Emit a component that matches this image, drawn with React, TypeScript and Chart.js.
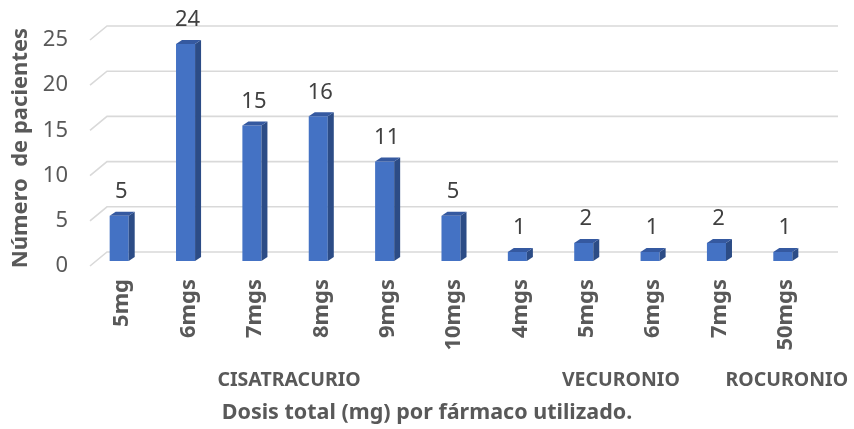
import { useEffect, useRef } from 'react';
import { Chart, registerables } from 'chart.js';

Chart.register(...registerables);

const categories = ['5mg', '6mgs', '7mgs', '8mgs', '9mgs', '10mgs', '4mgs', '5mgs', '6mgs', '7mgs', '50mgs'];
const patients = [5, 24, 15, 16, 11, 5, 1, 2, 1, 2, 1];
const groupNames = ['CISATRACURIO', 'VECURONIO', 'ROCURONIO'];
const groupSizes = [6, 4, 1];
const yMax = 25;
const yStep = 5;
const yTitle = 'Número  de pacientes';
const xTitle = 'Dosis total (mg) por fármaco utilizado.';

const FONT = "'Noto Sans', 'Open Sans', sans-serif";
const DX = 6;
const DY = 4;

const gridPlugin = {
  id: 'grid3d',
  beforeDatasetsDraw(chart: any) {
    const { ctx, chartArea, scales } = chart;
    const ys = scales.y;
    ctx.save();
    ctx.strokeStyle = '#d9d9d9';
    ctx.lineWidth = 1.6;
    ys.ticks.forEach((t: any) => {
      const py = ys.getPixelForValue(t.value);
      const fy = py + 5;
      const by = py - 9;
      ctx.beginPath();
      ctx.moveTo(chartArea.left + 4, fy);
      ctx.lineTo(chartArea.left + 21, by);
      ctx.lineTo(chartArea.right + 22, by);
      ctx.stroke();
    });
    ctx.restore();
  },
};

const barPlugin = {
  id: 'bar3d',
  afterDatasetsDraw(chart: any) {
    const { ctx, width } = chart;
    const meta = chart.getDatasetMeta(0);
    ctx.save();
    meta.data.forEach((bar: any, i: number) => {
      const p = bar.getProps(['x', 'y', 'base', 'width'], true);
      const { x, y, base } = p;
      const l = x - p.width / 2;
      const r = x + p.width / 2;
      ctx.fillStyle = '#2c4c86';
      ctx.beginPath();
      ctx.moveTo(r, y);
      ctx.lineTo(r + DX, y - DY);
      ctx.lineTo(r + DX, base - DY);
      ctx.lineTo(r, base);
      ctx.closePath();
      ctx.fill();
      ctx.fillStyle = '#3559a0';
      ctx.beginPath();
      ctx.moveTo(l, y);
      ctx.lineTo(l + DX, y - DY);
      ctx.lineTo(r + DX, y - DY);
      ctx.lineTo(r, y);
      ctx.closePath();
      ctx.fill();
      ctx.fillStyle = '#404040';
      ctx.font = `22px ${FONT}`;
      ctx.textAlign = 'center';
      ctx.textBaseline = 'middle';
      ctx.fillText(String(patients[i]), x + 2, y - 24);
    });
    // group labels
    const xs = chart.scales.x;
    ctx.fillStyle = '#595959';
    ctx.font = `bold 19.5px ${FONT}`;
    ctx.textAlign = 'center';
    ctx.textBaseline = 'middle';
    let start = 0;
    groupNames.forEach((name, gi) => {
      const end = start + groupSizes[gi] - 1;
      const cx = (xs.getPixelForValue(start) + xs.getPixelForValue(end)) / 2 + 4;
      ctx.fillText(name, cx, 380);
      start = end + 1;
    });
    // axis title
    ctx.font = `bold 21.5px ${FONT}`;
    ctx.fillText(xTitle, width / 2, 413);
    ctx.restore();
  },
};

export default function App() {
  const ref = useRef<HTMLCanvasElement>(null);
  useEffect(() => {
    if (!ref.current) return;
    const chart = new Chart(ref.current, {
      type: 'bar',
      data: {
        labels: categories,
        datasets: [
          {
            data: patients,
            backgroundColor: '#4472c4',
            borderWidth: 0,
            categoryPercentage: 1,
            barPercentage: 0.287,
          },
        ],
      },
      plugins: [gridPlugin, barPlugin],
      options: {
        animation: false,
        responsive: false,
        maintainAspectRatio: false,
        layout: { padding: { top: 35, right: 38, left: 0, bottom: 0 } },
        plugins: {
          legend: { display: false },
          tooltip: { enabled: false },
        },
        scales: {
          x: {
            grid: { display: false, drawTicks: false },
            border: { display: false },
            ticks: {
              autoSkip: false,
              minRotation: 90,
              maxRotation: 90,
              padding: 18,
              labelOffset: 3,
              color: '#595959',
              font: { family: FONT, size: 22, weight: 'bold' },
            },
            afterFit(scale: any) {
              scale.height = 168;
            },
          },
          y: {
            min: 0,
            max: yMax,
            grid: { display: false, drawTicks: false },
            border: { display: false },
            ticks: {
              stepSize: yStep,
              padding: 18,
              labelOffset: 5,
              color: '#595959',
              font: { family: FONT, size: 22 },
            },
            title: {
              display: true,
              text: yTitle,
              color: '#595959',
              font: { family: FONT, size: 22, weight: 'bold' },
              padding: { top: 8, bottom: 0 },
            },
            afterFit(scale: any) {
              scale.width = 86;
            },
          },
        },
      },
    });
    return () => chart.destroy();
  }, []);
  return (
    <div style={{ position: 'fixed', left: 0, top: 0, width: 854, height: 429, background: '#fff' }}>
      <canvas ref={ref} width={854} height={429} style={{ width: 854, height: 429 }} />
    </div>
  );
}
